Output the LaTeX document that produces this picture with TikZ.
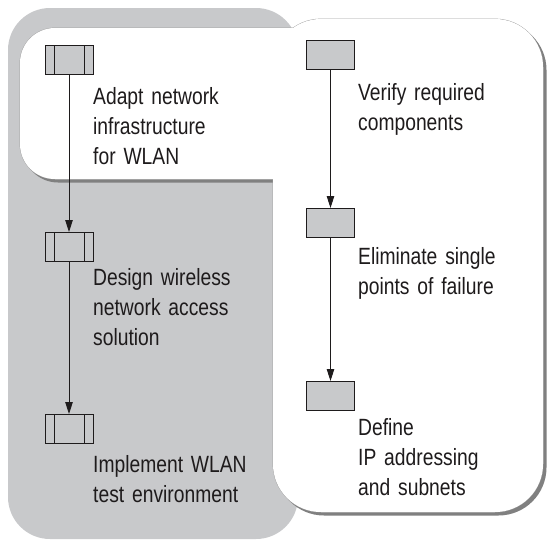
\documentclass[tikz,border=0pt]{standalone}
\usepackage{fontspec}
\setmainfont{Liberation Sans}[FakeStretch=0.82,WordSpace=0.7]
\usetikzlibrary{arrows.meta}
\definecolor{bggray}{HTML}{C8C9CB}
\definecolor{shadowgray}{HTML}{808080}
\definecolor{edgegray}{HTML}{A0A0A0}
\definecolor{txt}{HTML}{1E1B1C}
\begin{document}
\begin{tikzpicture}[x=1pt,y=-1pt,
  box/.style={draw=txt, line width=1pt, minimum width=48pt, minimum height=29pt, inner sep=0pt},
  procbox/.style={box, path picture={
    \draw[txt,line width=1pt] ([xshift=9pt]path picture bounding box.north west) -- ([xshift=9pt]path picture bounding box.south west);
    \draw[txt,line width=1pt] ([xshift=-9pt]path picture bounding box.north east) -- ([xshift=-9pt]path picture bounding box.south east);}},
  lbl/.style={anchor=base west, inner sep=0pt, text width=200pt, align=left, font=\fontsize{23.5}{30}\selectfont, text=txt},
  flow/.style={draw=txt, line width=0.9pt, -{Triangle[length=12pt,width=7.5pt]}}
]
\useasboundingbox (0,0) rectangle (547,539);
% gray background panel
\fill[bggray, rounded corners=42pt] (8,8) rectangle (298,539);
% shadows of white panel
\fill[shadowgray, rounded corners=35pt] (23,31) rectangle (363,182.5);
\fill[shadowgray, rounded corners=48pt] (276,22) rectangle (546.5,515.5);
% white panel outline
\filldraw[fill=white, draw=edgegray, line width=0.8pt, rounded corners=35pt] (20,28) rectangle (360,179);
\filldraw[fill=white, draw=edgegray, line width=0.8pt, rounded corners=48pt] (273,19) rectangle (543,512);
\fill[white, rounded corners=35pt] (20,28) rectangle (360,179);
\fill[white, rounded corners=48pt] (273,19) rectangle (543,512);
% left column
\node[procbox, fill=bggray] (p1) at (69,60) {};
\node[procbox] (p2) at (69,247) {};
\node[procbox] (p3) at (69,429) {};
\draw[flow] (p1) -- (p2);
\draw[flow] (p2) -- (p3);
% right column
\node[box, fill=bggray] (r1) at (330.5,55) {};
\node[box, fill=bggray] (r2) at (330.5,223) {};
\node[box, fill=bggray] (r3) at (330.5,396) {};
\draw[flow] (r1) -- (r2);
\draw[flow] (r2) -- (r3);
% labels
\node[lbl] (t1) at (93,104) {Adapt network\\infrastructure\\for WLAN};
\node[lbl] (t2) at (93,285) {Design wireless\\network access\\solution};
\node[lbl] (t3) at (93,472) {Implement WLAN\\test environment};
\node[lbl] (t4) at (358,100) {Verify required\\components};
\node[lbl] (t5) at (358,264) {Eliminate single\\points of failure};
\node[lbl] (t6) at (358,435) {Define\\IP addressing\\and subnets};
\end{tikzpicture}
\end{document}
